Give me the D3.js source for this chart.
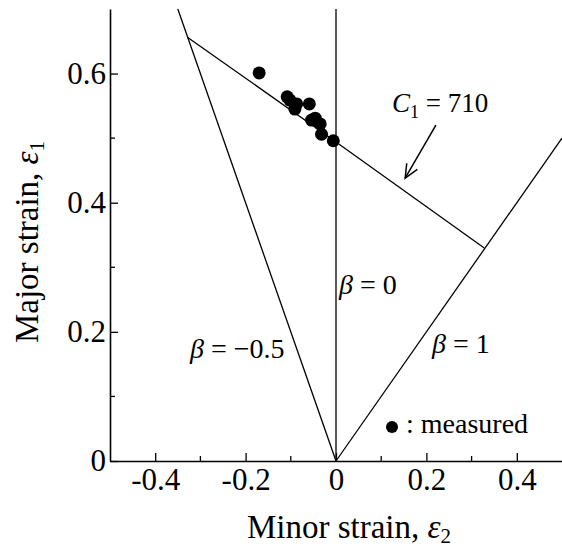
<!DOCTYPE html>
<html>
<head>
<meta charset="utf-8">
<script src="https://cdn.jsdelivr.net/npm/d3@7"></script>
<style>
  html, body { margin: 0; padding: 0; background: #fff; }
  svg { display: block; }
  text { font-family: "Liberation Serif", "Times New Roman", serif; fill: #000; }
</style>
</head>
<body>
<svg id="chart" width="562" height="550"></svg>
<script>
// ---- data ----
const xMajorTicks = [-0.4, -0.2, 0, 0.2, 0.4];
const xMinorTicks = [-0.3, -0.1, 0.1, 0.3];
const xTickLabels = ["-0.4", "-0.2", "0", "0.2", "0.4"];
const yMajorTicks = [0, 0.2, 0.4, 0.6];
const yMinorTicks = [0.1, 0.3, 0.5];
const yTickLabels = ["0", "0.2", "0.4", "0.6"];

const measuredMinor = [-0.170, -0.108, -0.102, -0.087, -0.091, -0.059, -0.054, -0.046, -0.035, -0.032, -0.006];
const measuredMajor = [0.601, 0.564, 0.559, 0.553, 0.545, 0.553, 0.528, 0.531, 0.522, 0.506, 0.496];

const betaZeroLine = [[0, 0], [0, 0.7]];
const betaNegHalfLine = [[0, 0], [-0.35, 0.7]];
const betaOneLine = [[0, 0], [0.5, 0.5]];
const c1Curve = [[-0.328, 0.656], [0, 0.494], [0.328, 0.330]];
const arrowFrom = [0.221, 0.520];
const arrowTo = [0.153, 0.438];

// ---- layout ----
const svg = d3.select("#chart");
const L = 110, R = 562, T = 9, B = 461;
const x = d3.scaleLinear().domain([-0.5, 0.5]).range([L, R]);
const y = d3.scaleLinear().domain([0, 0.7]).range([B, T]);
const line = d3.line().x(d => x(d[0])).y(d => y(d[1]));

// lines
const lines = [betaZeroLine, betaNegHalfLine, betaOneLine, c1Curve];
svg.append("g").selectAll("path").data(lines).join("path")
  .attr("d", line).attr("fill", "none").attr("stroke", "#000").attr("stroke-width", 1.3);

// arrow
const ax0 = x(arrowFrom[0]), ay0 = y(arrowFrom[1]), ax1 = x(arrowTo[0]), ay1 = y(arrowTo[1]);
svg.append("line").attr("x1", ax0).attr("y1", ay0).attr("x2", ax1).attr("y2", ay1)
  .attr("stroke", "#000").attr("stroke-width", 1.5);
const ang = Math.atan2(ay0 - ay1, ax0 - ax1);
const hl = 15, spread = 0.42;
const head = [[ax1 + hl * Math.cos(ang - spread), ay1 + hl * Math.sin(ang - spread)], [ax1, ay1],
              [ax1 + hl * Math.cos(ang + spread), ay1 + hl * Math.sin(ang + spread)]];
svg.append("path").attr("d", d3.line()(head)).attr("fill", "none").attr("stroke", "#000").attr("stroke-width", 1.5);

// measured points
svg.append("g").selectAll("circle").data(measuredMinor).join("circle")
  .attr("cx", d => x(d)).attr("cy", (d, i) => y(measuredMajor[i])).attr("r", 6.5).attr("fill", "#000");

// axes
const xAxis = d3.axisBottom(x).tickValues(xMajorTicks).tickSizeInner(-8).tickSizeOuter(0)
  .tickFormat((d, i) => xTickLabels[i]);
const gx = svg.append("g").attr("transform", `translate(0,${B})`).call(xAxis);
gx.append("g").selectAll("line").data(xMinorTicks).join("line")
  .attr("x1", d => x(d)).attr("x2", d => x(d)).attr("y1", 0).attr("y2", -5).attr("stroke", "#000").attr("stroke-width", 1.3);
gx.select(".domain").attr("stroke-width", 1.6);
gx.selectAll(".tick line").attr("stroke-width", 1.3);
gx.selectAll("text").style("font-size", "31px").style("font-family", "Liberation Serif, serif")
  .attr("y", 29).attr("dy", 0);

const yAxis = d3.axisLeft(y).tickValues(yMajorTicks).tickSizeInner(-8).tickSizeOuter(0).tickPadding(4)
  .tickFormat((d, i) => yTickLabels[i]);
const gy = svg.append("g").attr("transform", `translate(${L},0)`).call(yAxis);
gy.append("g").selectAll("line").data(yMinorTicks).join("line")
  .attr("y1", d => y(d)).attr("y2", d => y(d)).attr("x1", 0).attr("x2", 5).attr("stroke", "#000").attr("stroke-width", 1.3);
gy.select(".domain").attr("stroke-width", 1.6);
gy.selectAll(".tick line").attr("stroke-width", 1.3);
gy.selectAll("text").style("font-size", "31px").style("font-family", "Liberation Serif, serif").attr("x", -4);

// axis titles
const xt = svg.append("text").attr("x", 349).attr("y", 538).attr("text-anchor", "middle").style("font-size", "33px");
xt.append("tspan").text("Minor strain, ");
xt.append("tspan").style("font-style", "italic").text("ε");
xt.append("tspan").attr("dy", 5).style("font-size", "21px").text("2");

const yt = svg.append("text").attr("transform", "translate(38,242) rotate(-90)").attr("text-anchor", "middle").style("font-size", "33px");
yt.append("tspan").text("Major strain, ");
yt.append("tspan").style("font-style", "italic").text("ε");
yt.append("tspan").attr("dy", 6).style("font-size", "21px").text("1");

// annotations
const c1 = svg.append("text").attr("x", 392).attr("y", 112).style("font-size", "27px");
c1.append("tspan").style("font-style", "italic").text("C");
c1.append("tspan").attr("dy", 6).style("font-size", "18px").text("1");
c1.append("tspan").attr("dy", -6).text(" = 710");

function betaLabel(px, py, val) {
  const t = svg.append("text").attr("x", px).attr("y", py).style("font-size", "28px");
  t.append("tspan").style("font-style", "italic").text("β");
  t.append("tspan").text(" = " + val);
}
betaLabel(190, 358, "−0.5");
betaLabel(339, 294, "0");
betaLabel(432, 353, "1");

// legend
svg.append("circle").attr("cx", 392).attr("cy", 427).attr("r", 6).attr("fill", "#000");
svg.append("text").attr("x", 406).attr("y", 433).style("font-size", "28px").text(": measured");
</script>
</body>
</html>
